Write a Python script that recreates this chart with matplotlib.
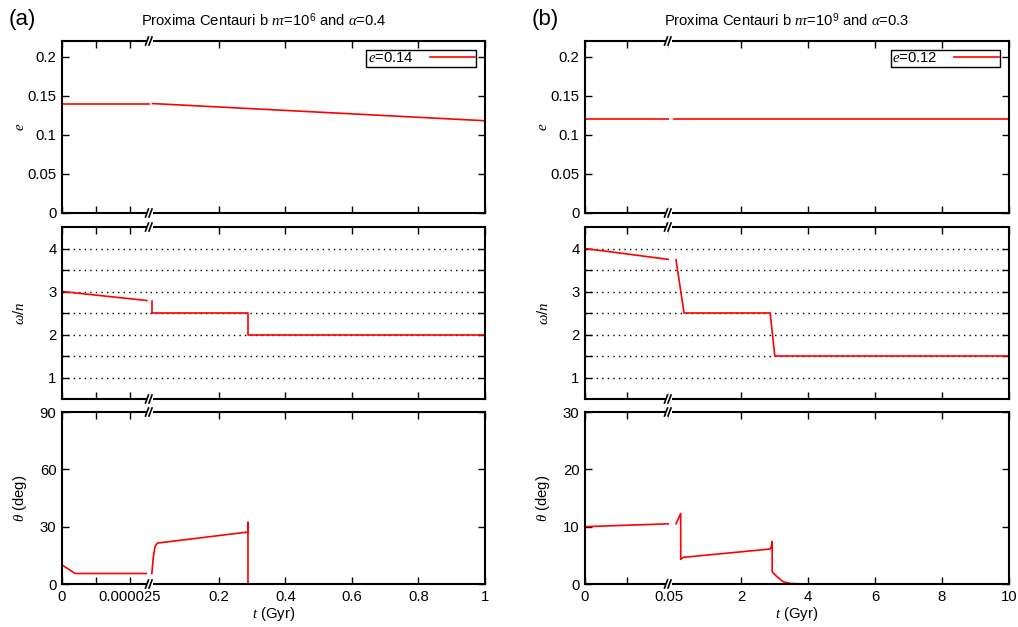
import matplotlib
matplotlib.use('Agg')
import matplotlib.pyplot as plt
from matplotlib.lines import Line2D
from matplotlib.patches import Rectangle

plt.rcParams['font.family'] = ['Liberation Sans', 'DejaVu Sans']
plt.rcParams['mathtext.fontset'] = 'custom'
plt.rcParams['mathtext.rm'] = 'Liberation Sans'
plt.rcParams['mathtext.it'] = 'Liberation Serif:italic'
plt.rcParams['mathtext.bf'] = 'Liberation Sans:bold'

# ---- data (t in Gyr) ----
# panel (a): n tau = 1e6, alpha = 0.4
a_e_t1 = [0, 3.2e-5]
a_e1 = [0.14, 0.14]
a_e_t2 = [0.0, 1.0]
a_e2 = [0.14, 0.118]

a_w_t1 = [0, 3.12e-5]
a_w1 = [3.0, 2.79]
a_w_t2 = [-0.001, -0.001, 0.287, 0.287, 1.0]
a_w2 = [2.79, 2.5, 2.5, 2.0, 2.0]

a_th_t1 = [0, 4.8e-6, 3.1e-5]
a_th1 = [10.0, 5.5, 5.5]
a_th_t2 = [-0.002, 0.0024, 0.0075, 0.0145, 0.287, 0.2871, 0.2872]
a_th2 = [5.5, 14.0, 19.4, 21.4, 27.2, 32.4, 0.0]

# panel (b): n tau = 1e9, alpha = 0.3
b_e_t1 = [0, 0.05]
b_e1 = [0.12, 0.12]
b_e_t2 = [0.0, 10.0]
b_e2 = [0.12, 0.12]

b_w_t1 = [0, 0.05]
b_w1 = [4.0, 3.745]
b_w_t2 = [0.06, 0.3, 2.87, 3.01, 10.0]
b_w2 = [3.74, 2.5, 2.5, 1.5, 1.5]

b_th_t1 = [0, 0.05]
b_th1 = [10.0, 10.5]
b_th_t2 = [0.06, 0.2, 0.201, 0.28, 2.87, 2.91, 2.93, 2.932, 3.07, 3.26, 3.46, 3.9]
b_th2 = [10.5, 12.3, 4.3, 4.65, 6.1, 6.6, 7.4, 2.1, 1.3, 0.4, 0.1, 0.0]

titles = [r'Proxima Centauri b $n\tau$=10$^6$ and $\alpha$=0.4',
          r'Proxima Centauri b $n\tau$=10$^9$ and $\alpha$=0.3']
tags = ['(a)', '(b)']
legend_labels = [r'$e$=0.14', r'$e$=0.12']

# ---- layout (pixels) ----
W, H = 1018, 627
fig = plt.figure(figsize=(W / 100, H / 100), dpi=100)
rows = [(41, 213), (227, 399), (412, 584)]

panels = [
    dict(left=62, brk=150, right=485, xl1=(0, 3.235e-5), xl2=(-0.0075, 1.0),
         xt1=[0, 1.25e-5, 2.5e-5], xtl1=['0', '', '0.000025'],
         xt2=[0.2, 0.4, 0.6, 0.8, 1.0], xtl2=['0.2', '0.4', '0.6', '0.8', '1'],
         th_lim=(0, 90), th_ticks=[0, 30, 60, 90],
         data=[(a_e_t1, a_e1, a_e_t2, a_e2), (a_w_t1, a_w1, a_w_t2, a_w2),
               (a_th_t1, a_th1, a_th_t2, a_th2)], title_x=264, tag_x=9),
    dict(left=585, brk=669, right=1009, xl1=(0, 0.05), xl2=(-0.149, 10.0),
         xt1=[0, 0.025, 0.05], xtl1=['0', '', '0.05'],
         xt2=[2, 4, 6, 8, 10], xtl2=['2', '4', '6', '8', '10'],
         th_lim=(0, 30), th_ticks=[0, 10, 20, 30],
         data=[(b_e_t1, b_e1, b_e_t2, b_e2), (b_w_t1, b_w1, b_w_t2, b_w2),
               (b_th_t1, b_th1, b_th_t2, b_th2)], title_x=787, tag_x=532),
]

FS = 10.7


def px_axes(x0, y0, x1, y1):
    return fig.add_axes([x0 / W, 1 - y1 / H, (x1 - x0) / W, (y1 - y0) / H])


def style(ax):
    for s in ax.spines.values():
        s.set_linewidth(1.5)
    ax.tick_params(direction='in', length=5, width=1, labelsize=FS,
                   top=True, bottom=True, pad=4)


def break_mark(xp, yp):
    fig.patches.append(Rectangle(((xp - 3) / W, 1 - (yp + 4) / H), 6 / W, 8 / H,
                                 transform=fig.transFigure, facecolor='white',
                                 edgecolor='none', zorder=10))
    for dx in (-3, 0.5):
        fig.lines.append(Line2D([(xp + dx - 1.5) / W, (xp + dx + 1.5) / W],
                                [1 - (yp + 4) / H, 1 - (yp - 4) / H],
                                transform=fig.transFigure, color='k', lw=1.2,
                                zorder=11))


ylabels = [r'$e$', r'$\omega/n$', r'$\theta$ (deg)']

for pi, p in enumerate(panels):
    for ri, (y0, y1) in enumerate(rows):
        ax1 = px_axes(p['left'], y0, p['brk'], y1)
        ax2 = px_axes(p['brk'], y0, p['right'], y1)
        t1, v1, t2, v2 = p['data'][ri]
        ax1.plot(t1, v1, color='#ff0000', lw=1.2)
        line2, = ax2.plot(t2, v2, color='#ff0000', lw=1.2)
        for ax in (ax1, ax2):
            style(ax)
        ax1.spines['right'].set_visible(False)
        ax2.spines['left'].set_visible(False)
        ax1.set_xlim(*p['xl1'])
        ax2.set_xlim(*p['xl2'])
        ax1.set_xticks(p['xt1'])
        ax2.set_xticks(p['xt2'])
        if ri == 2:
            ax1.set_xticklabels(p['xtl1'])
            ax2.set_xticklabels(p['xtl2'])
        else:
            ax1.set_xticklabels([])
            ax2.set_xticklabels([])

        if ri == 0:
            lim = (0, 0.22)
            ticks = [0, 0.05, 0.1, 0.15, 0.2]
            labels = ['0', '0.05', '0.1', '0.15', '0.2']
        elif ri == 1:
            lim = (0.5, 4.5)
            ticks = [1, 1.5, 2, 2.5, 3, 3.5, 4]
            labels = ['1', '', '2', '', '3', '', '4']
        else:
            lim = p['th_lim']
            ticks = p['th_ticks']
            labels = [str(v) for v in ticks]
        for ax in (ax1, ax2):
            ax.set_ylim(*lim)
            ax.set_yticks(ticks)
        ax1.set_yticklabels(labels)
        ax1.tick_params(axis='y', left=True, right=False)
        ax2.tick_params(axis='y', left=False, right=True, labelleft=False,
                        labelright=False)

        if ri == 1:
            for ax in (ax1, ax2):
                for g in ticks:
                    ax.axhline(g, color='k', lw=1, ls=(0, (1, 3)), zorder=1)

        if ri == 0:
            leg = ax2.legend([line2], [legend_labels[pi]], loc='upper right',
                             handlelength=3.0, markerfirst=False, fancybox=False,
                             edgecolor='k', framealpha=1, borderpad=0.1,
                             borderaxespad=0.6, fontsize=FS, handletextpad=1.1)
            leg.get_frame().set_linewidth(1.0)

        ycen = (y0 + y1) / 2
        fig.text((p['left'] - 42) / W, 1 - ycen / H, ylabels[ri], rotation=90,
                 ha='center', va='center', fontsize=FS)

        break_mark(p['brk'], y0)
        break_mark(p['brk'], y1)

    fig.text(p['title_x'] / W, 1 - 20 / H, titles[pi], ha='center', va='center',
             fontsize=10.6)
    fig.text(p['tag_x'] / W, 1 - 20 / H, tags[pi], ha='left', va='center',
             fontsize=16)
    fig.text(((p['left'] + p['right']) / 2) / W, 1 - 614 / H, r'$t$ (Gyr)',
             ha='center', va='center', fontsize=FS)

fig.savefig('out.png', dpi=100)
